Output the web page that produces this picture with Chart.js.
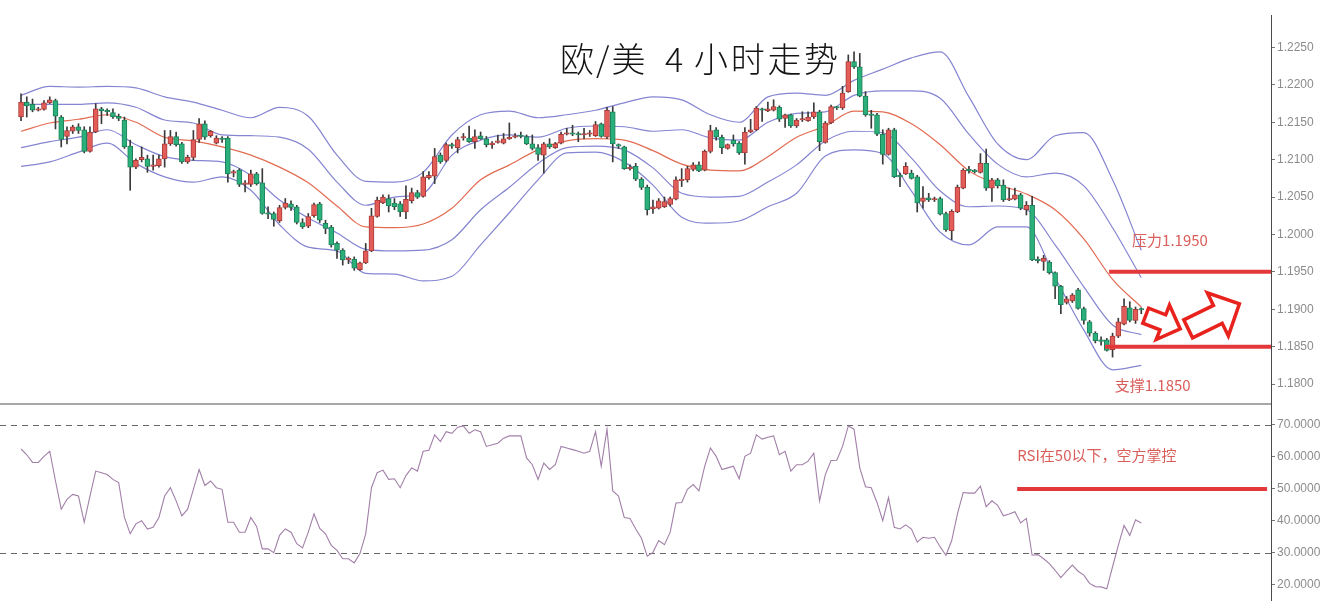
<!DOCTYPE html>
<html>
<head>
<meta charset="utf-8">
<script src="https://cdn.jsdelivr.net/npm/chart.js@4.4.0/dist/chart.umd.min.js"></script>
<style>
html,body{margin:0;padding:0;background:#fff}
#wrap{position:relative;width:1325px;height:615px;overflow:hidden;background:#fff}
#top{position:absolute;left:0;top:0}
#bot{position:absolute;left:0;top:404px}
.tt{position:absolute;top:41px;font-family:'Noto Sans CJK SC',sans-serif;font-weight:300;font-size:34px;line-height:34px;color:#141414;white-space:pre}
</style>
</head>
<body>
<div id="wrap">
<canvas id="top" width="1325" height="406"></canvas>
<canvas id="bot" width="1325" height="211"></canvas>
<div class="tt" style="left:560px;letter-spacing:2px">欧/美</div>
<div class="tt" style="left:665px">4</div>
<div class="tt" style="left:694px;letter-spacing:2.7px">小时走势</div>
</div>

<script>
// 4h candles, one per bar, left to right
var opens = [
1.2157,1.2177,1.2174,1.2166,1.2167,1.2176,1.2179,1.2157,1.2131,1.2138,
1.2144,1.2140,1.2111,1.2137,1.2168,1.2165,1.2163,1.2158,1.2153,1.2118,
1.2090,1.2100,1.2101,1.2091,1.2092,1.2101,1.2121,1.2131,1.2121,1.2097,
1.2103,1.2127,1.2148,1.2132,1.2122,1.2128,1.2129,1.2082,1.2086,1.2067,
1.2067,1.2081,1.2069,1.2028,1.2028,1.2018,1.2036,1.2041,1.2037,1.2016,
1.2011,1.2025,1.2041,1.2015,1.2010,1.1988,1.1979,1.1966,1.1967,1.1953,
1.1962,1.1978,1.2024,1.2042,1.2048,1.2042,1.2041,1.2030,1.2045,1.2056,
1.2051,1.2076,1.2078,1.2106,1.2099,1.2120,1.2116,1.2129,1.2129,1.2124,
1.2132,1.2128,1.2120,1.2123,1.2122,1.2128,1.2130,1.2132,1.2131,1.2121,
1.2116,1.2106,1.2121,1.2116,1.2122,1.2134,1.2135,1.2134,1.2133,1.2134,
1.2132,1.2148,1.2130,1.2164,1.2119,1.2117,1.2088,1.2091,1.2074,1.2063,
1.2034,1.2035,1.2037,1.2040,1.2047,1.2072,1.2073,1.2087,1.2093,1.2086,
1.2111,1.2140,1.2130,1.2115,1.2126,1.2122,1.2109,1.2137,1.2140,1.2168,
1.2165,1.2166,1.2170,1.2155,1.2160,1.2145,1.2153,1.2152,1.2157,1.2164,
1.2123,1.2149,1.2170,1.2169,1.2191,1.2231,1.2224,1.2185,1.2160,1.2160,
1.2134,1.2107,1.2140,1.2078,1.2081,1.2082,1.2077,1.2044,1.2049,1.2046,
1.2048,1.2028,1.2005,1.2030,1.2062,1.2086,1.2085,1.2083,1.2095,1.2062,
1.2073,1.2066,1.2046,1.2047,1.2053,1.2033,1.2039,1.1966,1.1964,1.1963,
1.1949,1.1931,1.1909,1.1911,1.1926,1.1901,1.1883,1.1868,1.1858,1.1859,
1.1846,1.1864,1.1880,1.1902,1.1885,1.1900
];
var highs = [
1.2188,1.2184,1.2181,1.2170,1.2179,1.2184,1.2181,1.2159,1.2144,1.2146,
1.2148,1.2144,1.2144,1.2175,1.2170,1.2168,1.2168,1.2161,1.2157,1.2126,
1.2101,1.2117,1.2106,1.2106,1.2106,1.2139,1.2139,1.2137,1.2123,1.2106,
1.2139,1.2155,1.2152,1.2139,1.2132,1.2131,1.2131,1.2086,1.2088,1.2072,
1.2086,1.2083,1.2088,1.2037,1.2030,1.2039,1.2048,1.2045,1.2039,1.2021,
1.2028,1.2042,1.2043,1.2019,1.2012,1.1990,1.1981,1.1970,1.1970,1.1963,
1.1988,1.2035,1.2050,1.2053,1.2053,1.2048,1.2044,1.2065,1.2062,1.2059,
1.2084,1.2084,1.2115,1.2109,1.2122,1.2122,1.2130,1.2135,1.2145,1.2140,
1.2137,1.2131,1.2124,1.2133,1.2135,1.2149,1.2135,1.2137,1.2133,1.2133,
1.2120,1.2123,1.2128,1.2123,1.2137,1.2142,1.2146,1.2137,1.2142,1.2139,
1.2151,1.2149,1.2170,1.2171,1.2121,1.2118,1.2093,1.2095,1.2076,1.2066,
1.2046,1.2048,1.2050,1.2050,1.2077,1.2088,1.2091,1.2096,1.2097,1.2113,
1.2146,1.2143,1.2133,1.2121,1.2133,1.2124,1.2143,1.2154,1.2171,1.2169,
1.2177,1.2180,1.2172,1.2161,1.2161,1.2155,1.2164,1.2164,1.2176,1.2166,
1.2151,1.2173,1.2171,1.2198,1.2240,1.2244,1.2242,1.2191,1.2166,1.2162,
1.2140,1.2142,1.2142,1.2082,1.2096,1.2086,1.2079,1.2064,1.2055,1.2050,
1.2050,1.2030,1.2033,1.2066,1.2088,1.2091,1.2087,1.2108,1.2114,1.2075,
1.2075,1.2073,1.2062,1.2062,1.2055,1.2044,1.2051,1.1970,1.1972,1.1965,
1.1950,1.1932,1.1917,1.1921,1.1928,1.1903,1.1885,1.1870,1.1863,1.1861,
1.1868,1.1888,1.1914,1.1910,1.1903,1.1902
];
var lows = [
1.2152,1.2157,1.2164,1.2165,1.2166,1.2175,1.2141,1.2117,1.2121,1.2135,
1.2135,1.2109,1.2110,1.2136,1.2148,1.2159,1.2155,1.2152,1.2115,1.2059,
1.2088,1.2097,1.2083,1.2086,1.2090,1.2090,1.2119,1.2118,1.2095,1.2095,
1.2099,1.2123,1.2127,1.2130,1.2121,1.2123,1.2070,1.2077,1.2064,1.2057,
1.2064,1.2066,1.2027,1.2021,1.2011,1.2016,1.2034,1.2032,1.2014,1.2008,
1.2009,1.2023,1.2016,1.2001,1.1983,1.1968,1.1959,1.1961,1.1952,1.1952,
1.1961,1.1977,1.2023,1.2041,1.2030,1.2033,1.2024,1.2021,1.2042,1.2048,
1.2050,1.2074,1.2068,1.2095,1.2097,1.2115,1.2109,1.2126,1.2123,1.2115,
1.2127,1.2117,1.2115,1.2122,1.2121,1.2127,1.2129,1.2129,1.2120,1.2113,
1.2099,1.2082,1.2115,1.2115,1.2121,1.2133,1.2132,1.2124,1.2128,1.2131,
1.2131,1.2130,1.2128,1.2097,1.2115,1.2087,1.2086,1.2072,1.2060,1.2026,
1.2028,1.2034,1.2036,1.2038,1.2046,1.2064,1.2070,1.2085,1.2084,1.2085,
1.2109,1.2126,1.2108,1.2114,1.2118,1.2107,1.2094,1.2136,1.2139,1.2151,
1.2164,1.2165,1.2151,1.2143,1.2143,1.2143,1.2151,1.2151,1.2155,1.2112,
1.2122,1.2148,1.2167,1.2167,1.2190,1.2222,1.2184,1.2158,1.2142,1.2132,
1.2094,1.2106,1.2076,1.2064,1.2080,1.2074,1.2030,1.2035,1.2044,1.2044,
1.2026,1.2004,1.1993,1.2029,1.2061,1.2082,1.2082,1.2082,1.2059,1.2044,
1.2062,1.2044,1.2045,1.2046,1.2033,1.2026,1.1965,1.1962,1.1952,1.1947,
1.1914,1.1894,1.1907,1.1909,1.1900,1.1880,1.1864,1.1855,1.1852,1.1844,
1.1836,1.1862,1.1879,1.1883,1.1881,1.1894
];
var closes = [
1.2177,1.2172,1.2166,1.2167,1.2176,1.2180,1.2158,1.2127,1.2139,1.2144,
1.2139,1.2111,1.2137,1.2168,1.2165,1.2164,1.2157,1.2155,1.2117,1.2090,
1.2099,1.2103,1.2091,1.2093,1.2101,1.2121,1.2131,1.2120,1.2097,1.2103,
1.2127,1.2148,1.2130,1.2138,1.2129,1.2127,1.2081,1.2083,1.2067,1.2068,
1.2081,1.2068,1.2028,1.2027,1.2020,1.2036,1.2042,1.2036,1.2016,1.2010,
1.2024,1.2040,1.2019,1.2008,1.1986,1.1979,1.1966,1.1967,1.1955,1.1962,
1.1978,1.2025,1.2046,1.2050,1.2038,1.2037,1.2030,1.2047,1.2056,1.2050,
1.2077,1.2079,1.2104,1.2097,1.2120,1.2118,1.2127,1.2130,1.2124,1.2131,
1.2128,1.2120,1.2122,1.2124,1.2128,1.2130,1.2132,1.2131,1.2121,1.2115,
1.2107,1.2121,1.2117,1.2121,1.2134,1.2135,1.2134,1.2133,1.2134,1.2135,
1.2147,1.2131,1.2166,1.2121,1.2118,1.2088,1.2089,1.2074,1.2063,1.2033,
1.2037,1.2045,1.2044,1.2048,1.2073,1.2073,1.2088,1.2093,1.2085,1.2111,
1.2139,1.2130,1.2116,1.2120,1.2121,1.2109,1.2137,1.2140,1.2169,1.2166,
1.2168,1.2171,1.2154,1.2160,1.2145,1.2153,1.2154,1.2157,1.2164,1.2124,
1.2149,1.2171,1.2169,1.2189,1.2231,1.2224,1.2185,1.2160,1.2159,1.2134,
1.2107,1.2140,1.2077,1.2077,1.2091,1.2075,1.2042,1.2049,1.2046,1.2047,
1.2027,1.2006,1.2031,1.2063,1.2086,1.2085,1.2084,1.2095,1.2062,1.2073,
1.2065,1.2046,1.2047,1.2053,1.2035,1.2039,1.1966,1.1965,1.1968,1.1949,
1.1931,1.1906,1.1914,1.1919,1.1901,1.1885,1.1868,1.1858,1.1857,1.1845,
1.1864,1.1883,1.1904,1.1885,1.1900,1.1899
];

// bollinger lines, read every 5 bars
var bandAt = [0,5,10,15,20,25,30,35,40,45,50,55,60,65,70,75,80,85,90,95,
              100,105,110,115,120,125,130,135,140,145,150,155,160,165,170,175,180,185,190,195];
var bbOuterUp = [1.2186,1.2198,1.2197,1.2198,1.2196,1.2184,1.2177,1.2166,1.2156,1.2170,
                 1.2158,1.2106,1.2071,1.2070,1.2083,1.2133,1.2160,1.2165,1.2156,1.2160,
                 1.2166,1.2176,1.2184,1.2180,1.2160,1.2150,1.2184,1.2189,1.2186,1.2206,
                 1.2221,1.2236,1.2244,1.2184,1.2121,1.2100,1.2132,1.2136,1.2073,1.1979];
var bbInnerUp = [1.2174,1.2174,1.2174,1.2176,1.2170,1.2153,1.2149,1.2133,1.2132,1.2130,
                 1.2114,1.2070,1.2039,1.2050,1.2055,1.2106,1.2126,1.2133,1.2130,1.2142,
                 1.2145,1.2144,1.2138,1.2140,1.2129,1.2126,1.2150,1.2162,1.2164,1.2186,
                 1.2192,1.2192,1.2182,1.2134,1.2094,1.2077,1.2082,1.2065,1.2009,1.1942];
var bbMid = [1.2138,1.2149,1.2154,1.2160,1.2150,1.2130,1.2125,1.2117,1.2106,1.2090,
             1.2069,1.2038,1.2010,1.2009,1.2014,1.2035,1.2073,1.2093,1.2113,1.2125,
             1.2128,1.2126,1.2112,1.2094,1.2086,1.2085,1.2104,1.2130,1.2145,1.2165,
             1.2164,1.2148,1.2120,1.2085,1.2067,1.2054,1.2033,1.1994,1.1940,1.1903];
var bbInnerLow = [1.2116,1.2124,1.2130,1.2140,1.2120,1.2104,1.2099,1.2097,1.2079,1.2046,
                  1.2022,1.2002,1.1980,1.1978,1.1979,1.1993,1.2033,1.2063,1.2095,1.2116,
                  1.2118,1.2113,1.2089,1.2055,1.2050,1.2051,1.2070,1.2093,1.2125,1.2138,
                  1.2136,1.2102,1.2058,1.2037,1.2038,1.2033,1.1986,1.1930,1.1879,1.1866];
var bbOuterLow = [1.2091,1.2097,1.2110,1.2122,1.2095,1.2077,1.2070,1.2077,1.2059,1.2013,
                  1.1983,1.1978,1.1948,1.1947,1.1938,1.1944,1.1986,1.2029,1.2073,1.2109,
                  1.2110,1.2097,1.2066,1.2023,1.2015,1.2018,1.2037,1.2055,1.2105,1.2113,
                  1.2108,1.2058,1.2003,1.1986,1.2010,1.2010,1.1942,1.1872,1.1819,1.1825];

// RSI, one value per bar
var rsi = [
62.5,60.7,58.3,58.3,60.2,61.8,52.5,43.7,46.8,48.3,
47.8,39.6,47.8,55.6,55.1,54.5,53.0,52.0,41.1,36.0,
39.1,40.1,37.5,38.0,41.1,47.8,50.4,46.3,41.6,43.7,
49.9,56.1,51.1,52.5,50.4,49.9,39.6,39.6,36.5,36.5,
41.1,38.3,31.3,31.3,30.1,35.5,37.5,36.5,32.9,31.6,
36.5,42.2,37.7,36.0,32.4,30.8,28.2,28.2,26.9,29.8,
36.0,50.4,55.1,55.9,53.0,53.2,50.4,54.2,56.6,55.6,
61.8,62.1,66.9,64.8,67.9,67.4,69.3,69.7,67.4,68.5,
67.9,63.3,63.8,64.3,65.9,66.6,66.6,66.6,59.7,57.6,
53.0,58.1,56.1,57.6,63.3,62.8,62.3,61.8,61.2,61.8,
67.9,57.1,68.7,49.4,47.8,41.1,40.8,37.5,34.6,29.0,
30.2,33.9,32.6,36.5,45.6,45.8,49.9,51.4,49.4,57.1,
62.8,60.2,56.1,56.6,57.1,53.2,60.2,61.2,66.9,65.6,
66.2,66.6,60.7,61.8,55.6,57.6,57.6,58.7,61.2,46.3,
54.5,58.9,59.0,63.3,69.7,68.7,56.6,50.7,50.4,45.8,
40.1,47.3,38.0,37.5,38.8,37.5,33.4,34.9,34.6,34.9,
31.9,29.3,33.9,42.2,48.9,48.7,48.7,50.9,44.5,46.3,
44.9,41.6,42.2,42.9,39.4,40.8,29.3,29.5,28.2,26.7,
24.6,22.3,24.3,26.2,24.3,23.1,20.5,19.5,19.4,18.8,
25.7,32.4,38.6,35.5,40.4,39.4
];

var priceTicks = [1.18,1.185,1.19,1.195,1.2,1.205,1.21,1.215,1.22,1.225];
var rsiTicks = [20,30,40,50,60,70];
var resistance = 1.1950, support = 1.1850;
var rsiGuides = [70, 30];
var rsiMid = 50;

var UP = '#e35c58', UP_EDGE = '#a63c39';
var DN = '#2bb07b', DN_EDGE = '#1d8059';
var BAND = '#8585d2', MID = '#e26c52';
var RED = '#e3383a', LABEL_RED = '#d95e5a';
var X_MIN = -3.66, X_MAX = 217.58;

function pts(xs, ys) {
  return xs.map(function(x, k){ return {x: x, y: ys[k]}; });
}
function bandSet(vals, color) {
  return {type:'line', data: pts(bandAt, vals), borderColor: color, borderWidth: 1.2,
          pointRadius: 0, fill: false, cubicInterpolationMode: 'monotone', order: 3};
}

var up = closes.map(function(c, i){ return c >= opens[i]; });

function rightAxis(min, max, ticks) {
  return {
    position: 'right', min: min, max: max,
    afterBuildTicks: function(s){ s.ticks = ticks.map(function(v){ return {value: v}; }); },
    afterFit: function(s){ s.width = 54; s.paddingTop = 0; s.paddingBottom = 0; },
    grid: {drawOnChartArea: false, drawTicks: true, tickLength: 4, color: '#777'},
    border: {display: true, color: '#4a4a4a', width: 1},
    ticks: {color: '#8c8c8c', padding: 2, font: {family: 'Liberation Sans, Arial', size: 12},
            callback: function(v){ return Number(v).toFixed(4); }}
  };
}

function hollowArrow(ctx, cx, cy, len, shaftHalf, headHalf, headLen, deg) {
  ctx.save();
  ctx.translate(cx, cy);
  ctx.rotate(deg * Math.PI / 180);
  var t = -len / 2, h = len / 2, b = h - headLen;
  ctx.beginPath();
  ctx.moveTo(t, -shaftHalf); ctx.lineTo(b, -shaftHalf); ctx.lineTo(b, -headHalf);
  ctx.lineTo(h, 0);
  ctx.lineTo(b, headHalf); ctx.lineTo(b, shaftHalf); ctx.lineTo(t, shaftHalf);
  ctx.closePath();
  ctx.fillStyle = '#fff';
  ctx.fill();
  ctx.lineWidth = 3.5;
  ctx.strokeStyle = '#e8221c';
  ctx.stroke();
  ctx.restore();
}

var topDecor = {
  id: 'topDecor',
  afterDatasetsDraw: function(chart) {
    var ctx = chart.ctx, a = chart.chartArea, x = chart.scales.x, y = chart.scales.y;
    ctx.save();
    // panel separator
    ctx.strokeStyle = '#8a8a8a';
    ctx.lineWidth = 1.5;
    ctx.beginPath(); ctx.moveTo(0, a.bottom); ctx.lineTo(a.right, a.bottom); ctx.stroke();
    // resistance / support
    ctx.strokeStyle = RED;
    ctx.lineWidth = 4;
    [[resistance, 189.4], [support, 188.7]].forEach(function(l){
      var py = y.getPixelForValue(l[0]);
      ctx.beginPath(); ctx.moveTo(x.getPixelForValue(l[1]), py); ctx.lineTo(a.right, py); ctx.stroke();
    });
    ctx.fillStyle = LABEL_RED;
    ctx.font = "15px 'Noto Sans CJK SC'";
    ctx.textBaseline = 'middle';
    ctx.fillText('压力' + resistance.toFixed(4), x.getPixelForValue(193.4), y.getPixelForValue(1.19925));
    ctx.fillText('支撑' + support.toFixed(4), x.getPixelForValue(190.4), y.getPixelForValue(1.17987));
    hollowArrow(ctx, x.getPixelForValue(198.77), y.getPixelForValue(1.18825), 37, 8, 18.5, 18.6, 21);
    hollowArrow(ctx, x.getPixelForValue(207.62), y.getPixelForValue(1.18905), 57, 10, 24, 24, -26);
    ctx.restore();
  }
};

new Chart(document.getElementById('top'), {
  type: 'bar',
  data: {
    datasets: [
      bandSet(bbOuterUp, BAND),
      bandSet(bbInnerUp, BAND),
      bandSet(bbMid, MID),
      bandSet(bbInnerLow, BAND),
      bandSet(bbOuterLow, BAND),
      {
        data: closes.map(function(c, i){ return {x: i, y: [lows[i], highs[i]]}; }),
        backgroundColor: '#3a3a3a', barThickness: 1, grouped: false, order: 2
      },
      {
        data: closes.map(function(c, i){ return {x: i, y: [opens[i], c]}; }),
        backgroundColor: up.map(function(u){ return u ? UP : DN; }),
        borderColor: up.map(function(u){ return u ? UP_EDGE : DN_EDGE; }),
        borderWidth: 1, borderSkipped: false, barThickness: 5, minBarLength: 1.5,
        grouped: false, order: 1
      }
    ]
  },
  options: {
    responsive: false, animation: false, events: [],
    layout: {padding: {top: 15, bottom: 2, left: 0, right: 0}},
    plugins: {legend: {display: false}, tooltip: {enabled: false}},
    scales: {
      x: {type: 'linear', min: X_MIN, max: X_MAX, display: false, offset: false},
      y: rightAxis(1.17733, 1.22934, priceTicks)
    }
  },
  plugins: [topDecor]
});

var botDecor = {
  id: 'botDecor',
  beforeDatasetsDraw: function(chart) {
    var ctx = chart.ctx, a = chart.chartArea, y = chart.scales.y;
    ctx.save();
    ctx.strokeStyle = '#666';
    ctx.lineWidth = 1;
    ctx.setLineDash([6, 5]);
    rsiGuides.forEach(function(v){
      var py = Math.round(y.getPixelForValue(v)) + 0.5;
      ctx.beginPath(); ctx.moveTo(a.left, py); ctx.lineTo(a.right, py); ctx.stroke();
    });
    ctx.restore();
  },
  afterDatasetsDraw: function(chart) {
    var ctx = chart.ctx, x = chart.scales.x, y = chart.scales.y;
    ctx.save();
    ctx.strokeStyle = RED;
    ctx.lineWidth = 4;
    var py = y.getPixelForValue(rsiMid);
    ctx.beginPath(); ctx.moveTo(x.getPixelForValue(173.4), py); ctx.lineTo(x.getPixelForValue(216.9), py); ctx.stroke();
    ctx.fillStyle = LABEL_RED;
    ctx.font = "15px 'Noto Sans CJK SC'";
    ctx.textBaseline = 'middle';
    ctx.fillText('RSI在50以下，空方掌控', x.getPixelForValue(173.4), y.getPixelForValue(60.6));
    ctx.restore();
  }
};

new Chart(document.getElementById('bot'), {
  type: 'line',
  data: {
    datasets: [{
      data: rsi.map(function(v, i){ return {x: i, y: v}; }),
      borderColor: '#a27fa8', borderWidth: 1.1, pointRadius: 0, tension: 0, fill: false
    }]
  },
  options: {
    responsive: false, animation: false, events: [],
    layout: {padding: {top: 1, bottom: 15, left: 0, right: 0}},
    plugins: {legend: {display: false}, tooltip: {enabled: false}},
    scales: {
      x: {type: 'linear', min: X_MIN, max: X_MAX, display: false, offset: false},
      y: rightAxis(15.31, 76.25, rsiTicks)
    }
  },
  plugins: [botDecor]
});
</script>
</body>
</html>
